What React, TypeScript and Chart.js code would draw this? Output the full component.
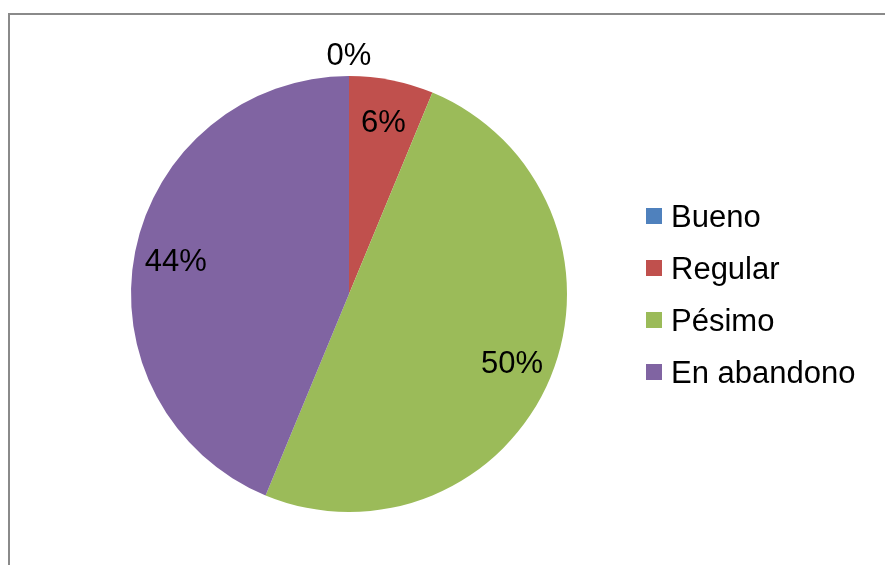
import React, { useEffect, useRef } from "react";
import { Chart, registerables } from "chart.js";

Chart.register(...registerables);

const categories = ["Bueno", "Regular", "Pésimo", "En abandono"];
const values = [0, 1, 8, 7];
const colors = ["#4F81BD", "#C0504D", "#9BBB59", "#8064A2"];

const FONT = "31px 'Liberation Sans', Arial, sans-serif";

const framePlugin = {
  id: "frame",
  beforeDraw(chart: any) {
    const ctx = chart.ctx;
    ctx.save();
    ctx.fillStyle = "#ffffff";
    ctx.fillRect(0, 0, chart.width, chart.height);
    ctx.strokeStyle = "#8a8a8a";
    ctx.lineWidth = 2;
    ctx.beginPath();
    ctx.moveTo(9, chart.height);
    ctx.lineTo(9, 14);
    ctx.lineTo(chart.width, 14);
    ctx.stroke();
    ctx.restore();
  },
};

const labelPlugin = {
  id: "pctLabels",
  afterDatasetsDraw(chart: any) {
    const ctx = chart.ctx;
    const meta = chart.getDatasetMeta(0);
    const data = chart.data.datasets[0].data as number[];
    const total = data.reduce((a: number, b: number) => a + b, 0);
    ctx.save();
    ctx.font = FONT;
    ctx.fillStyle = "#000000";
    ctx.textAlign = "center";
    ctx.textBaseline = "alphabetic";
    meta.data.forEach((arc: any, i: number) => {
      const { x, y, startAngle, endAngle, outerRadius } = arc.getProps(
        ["x", "y", "startAngle", "endAngle", "outerRadius"],
        true
      );
      const mid = (startAngle + endAngle) / 2;
      const v = data[i];
      const r = v === 0 ? outerRadius + 22 : outerRadius * 0.81;
      const cx = x + Math.cos(mid) * r;
      const cy = y + Math.sin(mid) * r;
      const pct = Math.round((v / total) * 100) + "%";
      ctx.fillText(pct, cx, cy + 11);
    });
    ctx.restore();
  },
};

const legendPlugin = {
  id: "customLegend",
  afterDraw(chart: any) {
    const ctx = chart.ctx;
    const labels = chart.data.labels as string[];
    const bg = chart.data.datasets[0].backgroundColor as string[];
    ctx.save();
    ctx.font = FONT;
    ctx.textAlign = "left";
    ctx.textBaseline = "alphabetic";
    labels.forEach((lab, i) => {
      const cy = 216 + i * 52;
      ctx.fillStyle = bg[i];
      ctx.fillRect(646, cy - 8, 16, 16);
      ctx.fillStyle = "#000000";
      ctx.fillText(lab, 671, cy + 11);
    });
    ctx.restore();
  },
};

export default function App() {
  const ref = useRef<HTMLCanvasElement | null>(null);
  useEffect(() => {
    if (!ref.current) return;
    const chart = new Chart(ref.current, {
      type: "pie",
      data: {
        labels: categories,
        datasets: [
          {
            data: values,
            backgroundColor: colors,
            borderWidth: 0,
          },
        ],
      },
      options: {
        animation: false,
        responsive: false,
        layout: { padding: { left: 131, right: 318, top: 76, bottom: 53 } },
        plugins: {
          legend: { display: false },
          tooltip: { enabled: false },
        },
      },
      plugins: [framePlugin, labelPlugin, legendPlugin],
    });
    return () => chart.destroy();
  }, []);
  return (
    <div style={{ position: "fixed", left: 0, top: 0, width: 885, height: 565 }}>
      <canvas ref={ref} width={885} height={565} style={{ width: 885, height: 565 }} />
    </div>
  );
}
